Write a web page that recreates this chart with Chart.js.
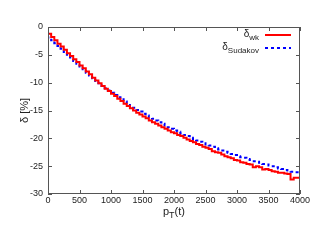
<!DOCTYPE html>
<html>
<head>
<meta charset="utf-8">
<script src="https://cdn.jsdelivr.net/npm/chart.js@4.4.1/dist/chart.umd.min.js"></script>
<style>
  html, body { margin: 0; padding: 0; background: #fff; }
  #wrap { width: 319px; height: 247px; }
</style>
</head>
<body>
<div id="wrap"><canvas id="myChart" width="319" height="247"></canvas></div>
<script>
// bin left edges (bins of 50), last entry closes the final bin
const binEdges = [0, 50, 100, 150, 200, 250, 300, 350, 400, 450, 500, 550, 600, 650, 700, 750,
    800, 850, 900, 950, 1000, 1050, 1100, 1150, 1200, 1250, 1300, 1350, 1400, 1450, 1500, 1550,
    1600, 1650, 1700, 1750, 1800, 1850, 1900, 1950, 2000, 2050, 2100, 2150, 2200, 2250, 2300, 2350,
    2400, 2450, 2500, 2550, 2600, 2650, 2700, 2750, 2800, 2850, 2900, 2950, 3000, 3050, 3100, 3150,
    3200, 3250, 3300, 3350, 3400, 3450, 3500, 3550, 3600, 3650, 3700, 3750, 3800, 3850, 3900, 3950, 4000];

const deltaWk = [-0.7, -1.2, -1.8, -2.4, -3.0, -3.5, -4.1, -4.7, -5.2, -5.8, -6.3, -6.9, -7.4, -8.0, -8.5, -9.1,
    -9.6, -10.1, -10.6, -11.1, -11.5, -12.0, -12.4, -12.9, -13.3, -13.8, -14.2, -14.6, -15.0, -15.4, -15.7, -16.1,
    -16.4, -16.8, -17.1, -17.4, -17.7, -18.0, -18.3, -18.6, -18.9, -19.1, -19.4, -19.6, -19.9, -20.2, -20.5, -20.7,
    -21.0, -21.2, -21.5, -21.7, -21.9, -22.3, -22.5, -22.6, -22.9, -23.2, -23.4, -23.6, -23.9, -24.0, -24.3, -24.4,
    -24.6, -24.7, -25.2, -25.0, -25.2, -25.6, -25.5, -25.7, -25.9, -26.0, -26.2, -26.2, -26.3, -26.4, -27.4, -27.1];

const deltaSudakov = [-1.6, -1.9, -2.4, -2.9, -3.4, -3.9, -4.5, -5.0, -5.5, -6.1, -6.6, -7.1, -7.6, -8.2, -8.7, -9.2,
    -9.7, -10.1, -10.6, -11.0, -11.4, -11.8, -12.2, -12.6, -13.0, -13.4, -13.8, -14.2, -14.5, -14.9, -15.2, -15.6,
    -15.9, -16.2, -16.5, -16.8, -17.1, -17.4, -17.7, -18.0, -18.3, -18.6, -18.8, -19.1, -19.4, -19.6, -19.9, -20.1,
    -20.4, -20.6, -20.9, -21.1, -21.3, -21.5, -21.8, -22.0, -22.2, -22.4, -22.6, -22.8, -23.0, -23.2, -23.4, -23.5,
    -23.7, -23.9, -24.1, -24.2, -24.4, -24.6, -24.7, -24.9, -25.0, -25.2, -25.4, -25.5, -25.7, -25.8, -26.0, -26.1];

const xTicks = [0, 500, 1000, 1500, 2000, 2500, 3000, 3500, 4000];
const yTicks = [0, -5, -10, -15, -20, -25, -30];

const FONT = "'Liberation Sans', Arial, sans-serif";
const TEXT = "#222";

function histPoints(values) {
    const pts = values.map((v, i) => ({x: binEdges[i], y: v}));
    pts.push({x: binEdges[values.length], y: values[values.length - 1]});
    return pts;
}

// text with a subscript part, returns end x
function subText(ctx, main, sub, x, y, size, align) {
    ctx.font = size + "px " + FONT;
    const w1 = ctx.measureText(main).width;
    ctx.font = (size - 2) + "px " + FONT;
    const w2 = ctx.measureText(sub).width;
    let start = x;
    if (align === "right") start = x - w1 - w2;
    ctx.textAlign = "left";
    ctx.textBaseline = "alphabetic";
    ctx.font = size + "px " + FONT;
    ctx.fillText(main, start, y);
    ctx.font = (size - 2) + "px " + FONT;
    ctx.fillText(sub, start + w1, y + 3);
    return start + w1 + w2;
}

const framePlugin = {
    id: "frame",
    afterDraw(chart) {
        const ctx = chart.ctx;
        const a = chart.chartArea;
        const xs = chart.scales.x;
        const ys = chart.scales.y;
        ctx.save();
        ctx.strokeStyle = "#555";
        ctx.lineWidth = 1;
        ctx.strokeRect(a.left + 0.5, a.top + 0.5, a.right - a.left - 1, a.bottom - a.top - 1);

        // inward ticks on all sides
        ctx.beginPath();
        xTicks.forEach(t => {
            const px = Math.round(xs.getPixelForValue(t)) + 0.5;
            ctx.moveTo(px, a.bottom); ctx.lineTo(px, a.bottom - 4);
            ctx.moveTo(px, a.top); ctx.lineTo(px, a.top + 4);
        });
        yTicks.forEach(t => {
            const py = Math.round(ys.getPixelForValue(t)) + 0.5;
            ctx.moveTo(a.left, py); ctx.lineTo(a.left + 4, py);
            ctx.moveTo(a.right, py); ctx.lineTo(a.right - 4, py);
        });
        ctx.stroke();

        ctx.fillStyle = TEXT;
        // y title
        ctx.save();
        ctx.translate(28, (a.top + a.bottom) / 2);
        ctx.rotate(-Math.PI / 2);
        ctx.font = "11px " + FONT;
        ctx.textAlign = "center";
        ctx.textBaseline = "alphabetic";
        ctx.fillText("\u03b4 [%]", 0, 0);
        ctx.restore();

        // x title p_T(t)
        ctx.font = "11px " + FONT;
        const e = subText(ctx, "p", "T", 163, 215, 11, "left");
        ctx.font = "11px " + FONT;
        ctx.fillText("(t)", e, 215);

        // legend
        subText(ctx, "\u03b4", "wk", 259, 37, 10, "right");
        subText(ctx, "\u03b4", "Sudakov", 259, 50, 10, "right");
        ctx.lineWidth = 2;
        ctx.strokeStyle = "#ff0000";
        ctx.beginPath(); ctx.moveTo(265, 35); ctx.lineTo(291, 35); ctx.stroke();
        ctx.strokeStyle = "#0000ff";
        ctx.setLineDash([3, 3]);
        ctx.beginPath(); ctx.moveTo(265, 48); ctx.lineTo(291, 48); ctx.stroke();
        ctx.restore();
    }
};

const chart = new Chart(document.getElementById("myChart"), {
    type: "line",
    data: {
        datasets: [
            {
                label: "\u03b4wk",
                data: histPoints(deltaWk),
                stepped: "after",
                borderColor: "#ff0000",
                borderWidth: 2,
                pointRadius: 0,
                fill: false
            },
            {
                label: "\u03b4Sudakov",
                data: histPoints(deltaSudakov),
                stepped: "after",
                borderColor: "#0000ff",
                borderWidth: 2,
                borderDash: [3, 3],
                pointRadius: 0,
                fill: false
            }
        ]
    },
    options: {
        responsive: false,
        animation: false,
        layout: {padding: {left: 0, top: 27, right: 19, bottom: 0}},
        plugins: {legend: {display: false}, tooltip: {enabled: false}},
        scales: {
            x: {
                type: "linear",
                min: 0,
                max: 4000,
                afterFit: s => { s.height = 53; },
                afterBuildTicks: s => { s.ticks = xTicks.map(v => ({value: v})); },
                ticks: {color: TEXT, font: {size: 9, family: FONT}, padding: 1, maxRotation: 0, autoSkip: false,
                    callback: v => String(v)},
                grid: {display: false, drawTicks: false},
                border: {display: false}
            },
            y: {
                min: -30,
                max: 0,
                afterFit: s => { s.width = 48; },
                afterBuildTicks: s => { s.ticks = yTicks.map(v => ({value: v})); },
                ticks: {color: TEXT, font: {size: 9, family: FONT}, padding: 5, autoSkip: false,
                    callback: v => String(v)},
                grid: {display: false, drawTicks: false},
                border: {display: false}
            }
        }
    },
    plugins: [framePlugin]
});
</script>
</body>
</html>
